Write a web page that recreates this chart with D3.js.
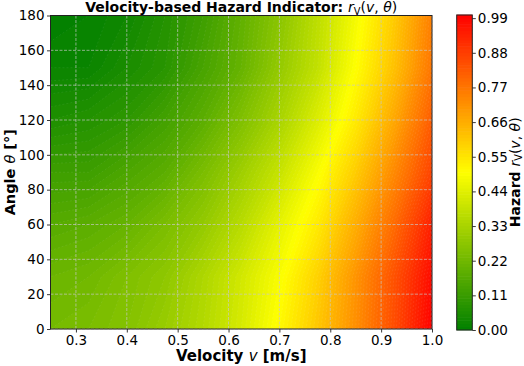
<!DOCTYPE html>
<meta charset="utf-8">
<title>Velocity-based Hazard Indicator</title>
<style>

body {
  margin: 0;
  background: #fff;
}

text {
  font-family: "DejaVu Sans", sans-serif;
  fill: #000;
}

</style>
<body>
  <script src="https://d3js.org/d3.v7.min.js"></script>
  <script>

  // grid: rows are angles (0..180), columns are velocities (0.25..1.0)
  const velocities = [0.25, 0.325, 0.4, 0.475, 0.55, 0.625, 0.7, 0.775, 0.85, 0.925, 1.0];
  const angles = [0, 30, 60, 90, 120, 150, 180];
  const hazard = [
    [0.23, 0.24, 0.26, 0.30, 0.35, 0.42, 0.51, 0.61, 0.72, 0.85, 1.00],
    [0.21, 0.22, 0.25, 0.28, 0.34, 0.41, 0.49, 0.59, 0.71, 0.84, 0.98],
    [0.17, 0.18, 0.20, 0.24, 0.29, 0.36, 0.45, 0.54, 0.66, 0.79, 0.94],
    [0.12, 0.12, 0.15, 0.18, 0.24, 0.31, 0.39, 0.49, 0.60, 0.73, 0.87],
    [0.06, 0.07, 0.09, 0.13, 0.18, 0.25, 0.33, 0.43, 0.54, 0.67, 0.82],
    [0.02, 0.02, 0.05, 0.08, 0.14, 0.20, 0.29, 0.38, 0.50, 0.62, 0.77],
    [0.00, 0.01, 0.03, 0.07, 0.12, 0.19, 0.27, 0.37, 0.48, 0.60, 0.75]
  ];

  const xTicks = [0.3, 0.4, 0.5, 0.6, 0.7, 0.8, 0.9, 1.0];
  const yTicks = [0, 20, 40, 60, 80, 100, 120, 140, 160, 180];
  const cbarTicks = [0.00, 0.11, 0.22, 0.33, 0.44, 0.55, 0.66, 0.77, 0.88, 0.99];

  const width = 524;
  const height = 366;
  const pLeft = 50.5, pRight = 432, pTop = 15.5, pBottom = 329;

  const svg = d3.select("body").append("svg")
      .attr("width", width)
      .attr("height", height);

  const x = d3.scaleLinear().domain([0.25, 1.0]).range([pLeft, pRight]);
  const y = d3.scaleLinear().domain([0, 180]).range([pBottom, pTop]);
  const color = d3.scaleLinear()
      .domain([0, 0.5, 1])
      .range(["#008000", "#ffff00", "#ff0000"]);

  const levels = d3.range(0, 101).map(i => i / 100);
  const step = 0.01;

  // contours of the grid, mapped back into data space
  const nv = velocities.length, na = angles.length;
  const dv = velocities[1] - velocities[0];
  const da = angles[1] - angles[0];
  const proj = d3.geoTransform({
    point(px, py) {
      this.stream.point(x(velocities[0] + (px - 0.5) * dv), y(angles[0] + (py - 0.5) * da));
    }
  });
  const path = d3.geoPath(proj);

  const contours = d3.contours()
      .size([nv, na])
      .thresholds(levels.slice(0, -1))(hazard.flat());

  svg.append("clipPath").attr("id", "clip")
    .append("rect")
      .attr("x", pLeft).attr("y", pTop)
      .attr("width", pRight - pLeft).attr("height", pBottom - pTop);

  svg.append("g")
      .attr("clip-path", "url(#clip)")
    .selectAll("path")
    .data(contours)
    .join("path")
      .attr("d", path)
      .attr("fill", d => color(d.value + step / 2))
      .attr("stroke", "#fff")
      .attr("stroke-opacity", 0.14)
      .attr("stroke-width", 0.5)
      .attr("stroke-dasharray", "2,2");

  // dashed grid
  const grid = svg.append("g")
      .attr("stroke", "#c8c8c8")
      .attr("stroke-opacity", 0.85)
      .attr("stroke-width", 0.8)
      .attr("stroke-dasharray", "3,1.5");

  grid.selectAll(".gx").data(xTicks).join("line")
      .attr("x1", d => x(d)).attr("x2", d => x(d))
      .attr("y1", pTop).attr("y2", pBottom);

  grid.selectAll(".gy").data(yTicks).join("line")
      .attr("x1", pLeft).attr("x2", pRight)
      .attr("y1", d => y(d)).attr("y2", d => y(d));

  // axes
  const xAxis = svg.append("g")
      .attr("transform", "translate(0," + pBottom + ")")
      .call(d3.axisBottom(x).tickValues(xTicks).tickFormat(d3.format(".1f")).tickSize(3.5).tickPadding(3));

  const yAxis = svg.append("g")
      .attr("transform", "translate(" + pLeft + ",0)")
      .call(d3.axisLeft(y).tickValues(yTicks).tickSize(3.5).tickPadding(2.5));

  [xAxis, yAxis].forEach(g => {
    g.select(".domain").remove();
    g.selectAll(".tick line").attr("stroke", "#222").attr("stroke-width", 0.9);
    g.selectAll(".tick text")
        .style("font-family", "DejaVu Sans, sans-serif")
        .style("font-size", "13.5px")
        .attr("fill", "#000");
  });

  svg.append("rect")
      .attr("x", pLeft).attr("y", pTop)
      .attr("width", pRight - pLeft).attr("height", pBottom - pTop)
      .attr("fill", "none")
      .attr("stroke", "#222")
      .attr("stroke-width", 1);

  // colorbar
  const cbLeft = 456.7, cbRight = 472.3;
  const cy = d3.scaleLinear().domain([0, 1]).range([330, 15]);

  svg.append("g").selectAll("rect")
    .data(levels.slice(0, -1))
    .join("rect")
      .attr("x", cbLeft)
      .attr("width", cbRight - cbLeft)
      .attr("y", d => cy(d + step) - 0.3)
      .attr("height", d => cy(d) - cy(d + step) + 0.6)
      .attr("fill", d => color(d + step / 2));

  const cAxis = svg.append("g")
      .attr("transform", "translate(" + cbRight + ",0)")
      .call(d3.axisRight(cy).tickValues(cbarTicks).tickFormat(d3.format(".2f")).tickSize(3.5).tickPadding(2));
  cAxis.select(".domain").remove();
  cAxis.selectAll(".tick line").attr("stroke", "#222").attr("stroke-width", 0.9);
  cAxis.selectAll(".tick text")
      .style("font-family", "DejaVu Sans, sans-serif")
      .style("font-size", "13.5px")
      .attr("fill", "#000");

  svg.append("rect")
      .attr("x", cbLeft).attr("y", 15)
      .attr("width", cbRight - cbLeft).attr("height", 315)
      .attr("fill", "none")
      .attr("stroke", "#222")
      .attr("stroke-width", 1);

  // r_V(v, θ) written as math text
  const mathLabel = (t, size) => {
    t.append("tspan").attr("font-style", "italic").attr("font-weight", "normal").text("r");
    t.append("tspan").attr("font-weight", "normal").attr("font-size", size * 0.7 + "px")
        .attr("dy", size * 0.2).text("V");
    t.append("tspan").attr("font-weight", "normal").attr("dy", -size * 0.2).text("(");
    t.append("tspan").attr("font-style", "italic").attr("font-weight", "normal").text("v");
    t.append("tspan").attr("font-weight", "normal").text(", ");
    t.append("tspan").attr("font-style", "italic").attr("font-weight", "normal").text("θ");
    t.append("tspan").attr("font-weight", "normal").text(")");
  };

  const title = svg.append("text")
      .attr("x", (pLeft + pRight) / 2)
      .attr("y", 12)
      .attr("text-anchor", "middle")
      .attr("font-size", "14px")
      .attr("font-weight", "bold");
  title.append("tspan").text("Velocity-based Hazard Indicator: ");
  mathLabel(title, 14);

  const xLabel = svg.append("text")
      .attr("x", (pLeft + pRight) / 2)
      .attr("y", 361)
      .attr("text-anchor", "middle")
      .attr("font-size", "15px")
      .attr("font-weight", "bold");
  xLabel.append("tspan").text("Velocity ");
  xLabel.append("tspan").attr("font-style", "italic").attr("font-weight", "normal").text("v");
  xLabel.append("tspan").text(" [m/s]");

  const yLabel = svg.append("text")
      .attr("transform", "translate(14.5," + (pTop + pBottom) / 2 + ")rotate(-90)")
      .attr("text-anchor", "middle")
      .attr("font-size", "14.5px")
      .attr("font-weight", "bold");
  yLabel.append("tspan").text("Angle ");
  yLabel.append("tspan").attr("font-style", "italic").attr("font-weight", "normal").text("θ");
  yLabel.append("tspan").text(" [°]");

  const cLabel = svg.append("text")
      .attr("transform", "translate(519.5," + (pTop + pBottom) / 2 + ")rotate(-90)")
      .attr("text-anchor", "middle")
      .attr("font-size", "14px")
      .attr("font-weight", "bold");
  cLabel.append("tspan").text("Hazard ");
  mathLabel(cLabel, 14);

  </script>
</body>
